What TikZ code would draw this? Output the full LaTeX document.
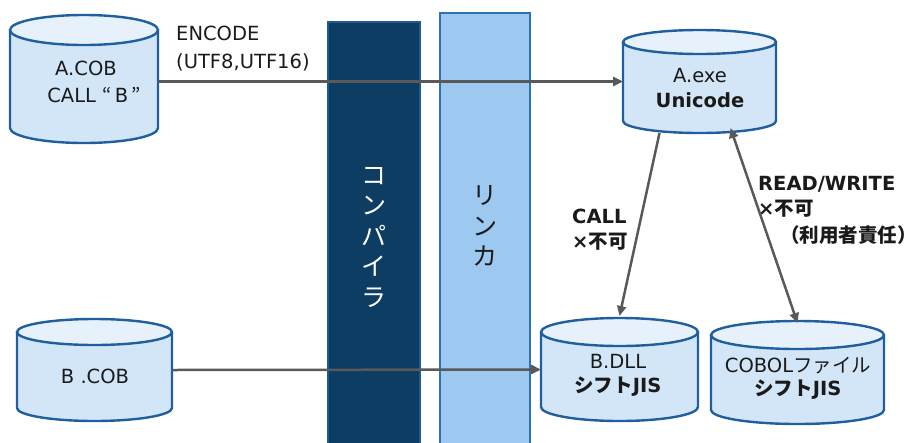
\documentclass[tikz,border=0pt]{standalone}
\usepackage{fontspec}
\setmainfont{DejaVu Sans}
\newfontfamily\jp{Noto Sans CJK JP}
\usetikzlibrary{arrows.meta}
\definecolor{cylborder}{HTML}{1F5F9E}
\definecolor{cylbody}{HTML}{D3E6F8}
\definecolor{cyltop}{HTML}{E6F1FB}
\definecolor{darkbar}{HTML}{0D3D63}
\definecolor{darkbarline}{HTML}{1B5A92}
\definecolor{lightbar}{HTML}{9DC8F0}
\definecolor{lightbarline}{HTML}{2E72B4}
\definecolor{arrowgray}{HTML}{595959}
\definecolor{txt}{HTML}{1A1A1A}
\tikzset{
  cylbox/.style={rectangle, inner sep=0pt, outer sep=0pt},
  cylline/.style={draw=cylborder, line width=2.4pt},
  cyltext/.style={anchor=base, inner sep=0pt, text=txt, font=\fontsize{19.5}{23}\selectfont},
  cylbold/.style={cyltext, font=\bfseries\fontsize{19.5}{23}\selectfont},
  lbl/.style={anchor=base west, inner sep=0pt, text=txt, font=\fontsize{19.5}{23}\selectfont},
  lblbold/.style={lbl, font=\bfseries\fontsize{19.5}{23}\selectfont},
  arr/.style={draw=arrowgray, line width=2.5pt, -{Triangle[length=10pt,width=9pt]}},
  darr/.style={draw=arrowgray, line width=2.5pt, {Triangle[length=10pt,width=9pt]}-{Triangle[length=10pt,width=9pt]}},
  vtext/.style={align=center, inner sep=0pt, font=\jp\fontsize{25}{30.5}\selectfont},
}
% name, left, top, right, bottom, ry
\newcommand\mycyl[6]{%
  \node[cylbox, minimum width={#4-#2}, minimum height={#5-#3}] (#1) at ({(#2+#4)/2},{(#3+#5)/2}) {};
  \path[fill=cylbody, cylline] (#2,{#3+#6}) -- (#2,{#5-#6})
     arc[start angle=180, end angle=0, x radius={(#4-#2)/2}, y radius=#6]
     -- (#4,{#3+#6});
  \path[fill=cyltop, cylline] ({(#2+#4)/2},{#3+#6}) ellipse[x radius={(#4-#2)/2}, y radius=#6];
}
\begin{document}
\begin{tikzpicture}[x=1pt,y=-1pt]
\useasboundingbox (0,0) rectangle (917,442);
% bars
\path[fill=darkbar, draw=darkbarline, line width=1.5pt] (328,22) rectangle (420,450);
\path[fill=lightbar, draw=lightbarline, line width=2pt] (440,13) rectangle (530,450);
\node[vtext, text=white] (compiler) at (374,237) {コ\\ン\\パ\\イ\\ラ};
\node[vtext, text=txt] (linker) at (485,226) {リ\\ン\\カ};
% cylinders
\mycyl{acob}{10}{15}{158}{143}{15}
\mycyl{bcob}{17}{319}{172}{421}{13}
\mycyl{aexe}{623}{30}{776}{133}{12}
\mycyl{bdll}{541}{318}{698}{421}{14}
\mycyl{cobf}{711}{321}{884}{424}{14}
% cylinder texts
\node[cyltext] (acob1) at (86,75) {A.COB};
\node[cyltext] (acob2) at (94,102) {CALL {\jp “}\,B\,{\jp ”}};
\node[cyltext] (bcob1) at (95,383) {B .COB};
\node[cyltext] (aexe1) at (700,82) {A.exe};
\node[cylbold] (aexe2) at (700,107) {Unicode};
\node[cyltext] (bdll1) at (618,368) {B.DLL};
\node[cylbold] (bdll2) at (618,392) {{\jp シフト}JIS};
\node[cyltext] (cobf1) at (798,372) {COBOL{\jp ファイル}};
\node[cylbold] (cobf2) at (798,395) {{\jp シフト}JIS};
% labels
\node[lbl] (enc1) at (176,40) {ENCODE};
\node[lbl] (enc2) at (176,68) {(UTF8,UTF16)};
\node[lblbold] (call1) at (572,223) {CALL};
\node[lblbold] (call2) at (572,248) {×{\jp 不可}};
\node[lblbold] (rw1) at (758,190) {READ/WRITE};
\node[lblbold] (rw2) at (758,215) {×{\jp 不可}};
\node[lblbold] (rw3) at (780,242) {{\jp （利用者責任）}};
% connectors
\draw[arr] (acob.east |- aexe.west) -- (aexe.west);
\draw[arr] (bcob.east) -- (bdll.west);
\draw[arr] ([xshift=-40pt]aexe.south) -- ([yshift=2pt]bdll.north);
\draw[darr] ([xshift=31pt,yshift=5pt]aexe.south) -- ([yshift=-2pt]cobf.north);
\end{tikzpicture}
\end{document}
